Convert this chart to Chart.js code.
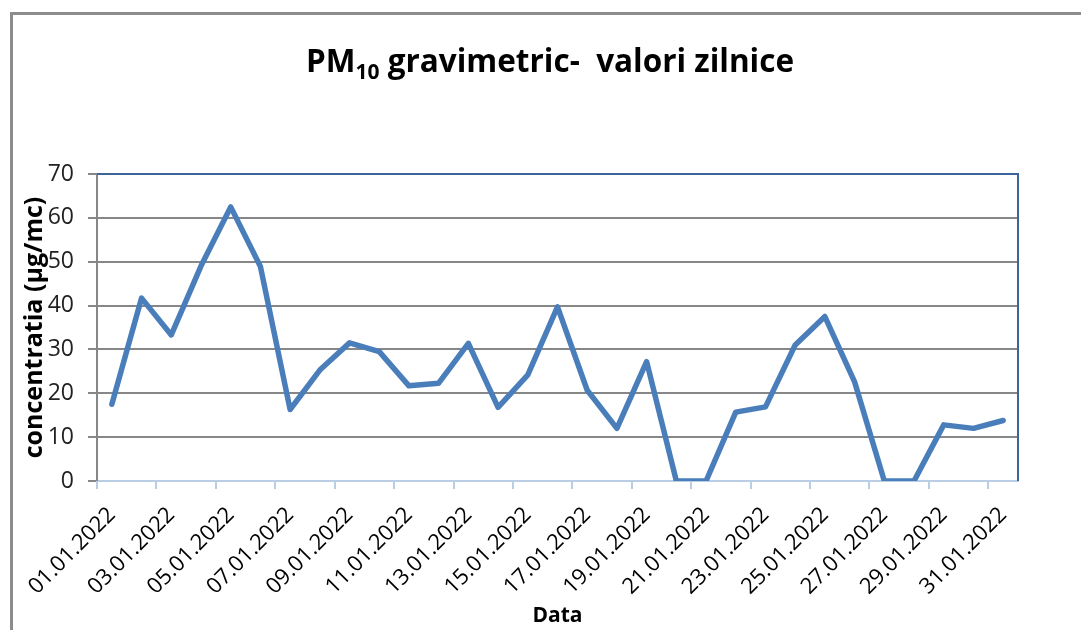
<!DOCTYPE html>
<html>
<head>
<meta charset="utf-8">
<script src="https://cdn.jsdelivr.net/npm/chart.js@4.4.0/dist/chart.umd.min.js"></script>
<style>
  html, body { margin: 0; padding: 0; background: #fff; }
  #wrap { position: relative; width: 1081px; height: 630px; overflow: hidden; }
  #frame { position: absolute; left: 10px; top: 12px; width: 1100px; height: 700px;
           border-left: 3px solid #8c8c8c; border-top: 3px solid #8c8c8c; }
  canvas { position: absolute; left: 0; top: 0; }
</style>
</head>
<body>
<div id="wrap">
  <div id="frame"></div>
  <canvas id="pmChart" width="1081" height="630"></canvas>
</div>
<script>
  const days = [
    '01.01.2022', '02.01.2022', '03.01.2022', '04.01.2022', '05.01.2022', '06.01.2022',
    '07.01.2022', '08.01.2022', '09.01.2022', '10.01.2022', '11.01.2022', '12.01.2022',
    '13.01.2022', '14.01.2022', '15.01.2022', '16.01.2022', '17.01.2022', '18.01.2022',
    '19.01.2022', '20.01.2022', '21.01.2022', '22.01.2022', '23.01.2022', '24.01.2022',
    '25.01.2022', '26.01.2022', '27.01.2022', '28.01.2022', '29.01.2022', '30.01.2022',
    '31.01.2022'
  ];
  const pm10 = [
    17.5, 41.7, 33.3, 49.0, 62.5, 48.9, 16.3, 25.3, 31.5, 29.5, 21.7, 22.3,
    31.4, 16.8, 24.2, 39.7, 20.7, 12.0, 27.2, 0, 0, 15.7, 16.9, 31.0,
    37.5, 22.6, 0, 0, 12.8, 12.0, 13.8
  ];
  const yTicks = { min: 0, max: 70, step: 10 };

  const FONT = '"Open Sans", "Noto Sans", sans-serif';

  // title with subscript, drawn on the canvas
  const titlePlugin = {
    id: 'pmTitle',
    afterDraw(chart) {
      const ctx = chart.ctx;
      const parts = [
        { t: 'PM', size: 31.5, dy: 0 },
        { t: '10', size: 21, dy: 7 },
        { t: ' gravimetric-  valori zilnice', size: 31.5, dy: 0 }
      ];
      ctx.save();
      let total = 0;
      parts.forEach(p => {
        ctx.font = 'bold ' + p.size + 'px ' + FONT;
        p.w = ctx.measureText(p.t).width;
        total += p.w;
      });
      let x = 550 - total / 2;
      const base = 72;
      ctx.fillStyle = '#000';
      ctx.textBaseline = 'alphabetic';
      parts.forEach(p => {
        ctx.font = 'bold ' + p.size + 'px ' + FONT;
        ctx.fillText(p.t, x, base + p.dy);
        x += p.w;
      });
      ctx.restore();
    }
  };

  // dark blue top/right edges + category tick marks every 2 days
  const edgePlugin = {
    id: 'plotEdges',
    afterDraw(chart) {
      const a = chart.chartArea;
      const ctx = chart.ctx;
      const xs = chart.scales.x;
      const band = xs.getPixelForValue(1) - xs.getPixelForValue(0);
      ctx.save();
      ctx.strokeStyle = '#b9cde5';
      ctx.lineWidth = 2;
      for (let i = 0; i < days.length; i += 2) {
        const px = Math.round(xs.getPixelForValue(i) - band / 2);
        ctx.beginPath();
        ctx.moveTo(px, a.bottom);
        ctx.lineTo(px, a.bottom + 8);
        ctx.stroke();
      }
      ctx.strokeStyle = '#3c659c';
      ctx.beginPath();
      ctx.moveTo(a.left, a.top);
      ctx.lineTo(a.right, a.top);
      ctx.lineTo(a.right, a.bottom);
      ctx.stroke();
      ctx.restore();
    }
  };

  const ctx = document.getElementById('pmChart').getContext('2d');
  new Chart(ctx, {
    type: 'line',
    data: {
      labels: days,
      datasets: [{
        data: pm10,
        borderColor: '#4a7ebb',
        borderWidth: 5.5,
        borderJoinStyle: 'round',
        borderCapStyle: 'round',
        pointRadius: 0,
        tension: 0,
        fill: false
      }]
    },
    options: {
      responsive: false,
      animation: false,
      layout: { padding: { left: 20, right: 63, top: 174, bottom: 0 } },
      plugins: {
        legend: { display: false },
        title: { display: false },
        tooltip: { enabled: false }
      },
      scales: {
        x: {
          offset: true,
          grid: { display: false },
          border: { color: '#b9cde5', width: 2 },
          ticks: {
            autoSkip: false,
            minRotation: 45,
            maxRotation: 45,
            padding: 13,
            color: '#000',
            font: { family: FONT, size: 22 },
            callback: function(v, i) { return i % 2 === 0 ? days[i] : null; }
          },
          title: {
            display: true,
            text: 'Data',
            color: '#000',
            padding: { top: 0, bottom: 1 },
            font: { family: FONT, size: 21, weight: 'bold' }
          },
          afterFit(scale) { scale.height = 630 - 481; }
        },
        y: {
          min: yTicks.min,
          max: yTicks.max,
          grid: {
            color: '#878787',
            lineWidth: 2,
            tickLength: 9,
            drawTicks: true
          },
          border: { color: '#878787', width: 2 },
          ticks: {
            stepSize: yTicks.step,
            padding: 14,
            color: '#222',
            font: { family: FONT, size: 23 }
          },
          title: {
            display: true,
            text: 'concentratia (µg/mc)',
            color: '#000',
            padding: { top: 0, bottom: 0 },
            font: { family: FONT, size: 25, weight: 'bold' }
          },
          afterFit(scale) { scale.width = 97 - 20; }
        }
      }
    },
    plugins: [titlePlugin, edgePlugin]
  });
</script>
</body>
</html>
